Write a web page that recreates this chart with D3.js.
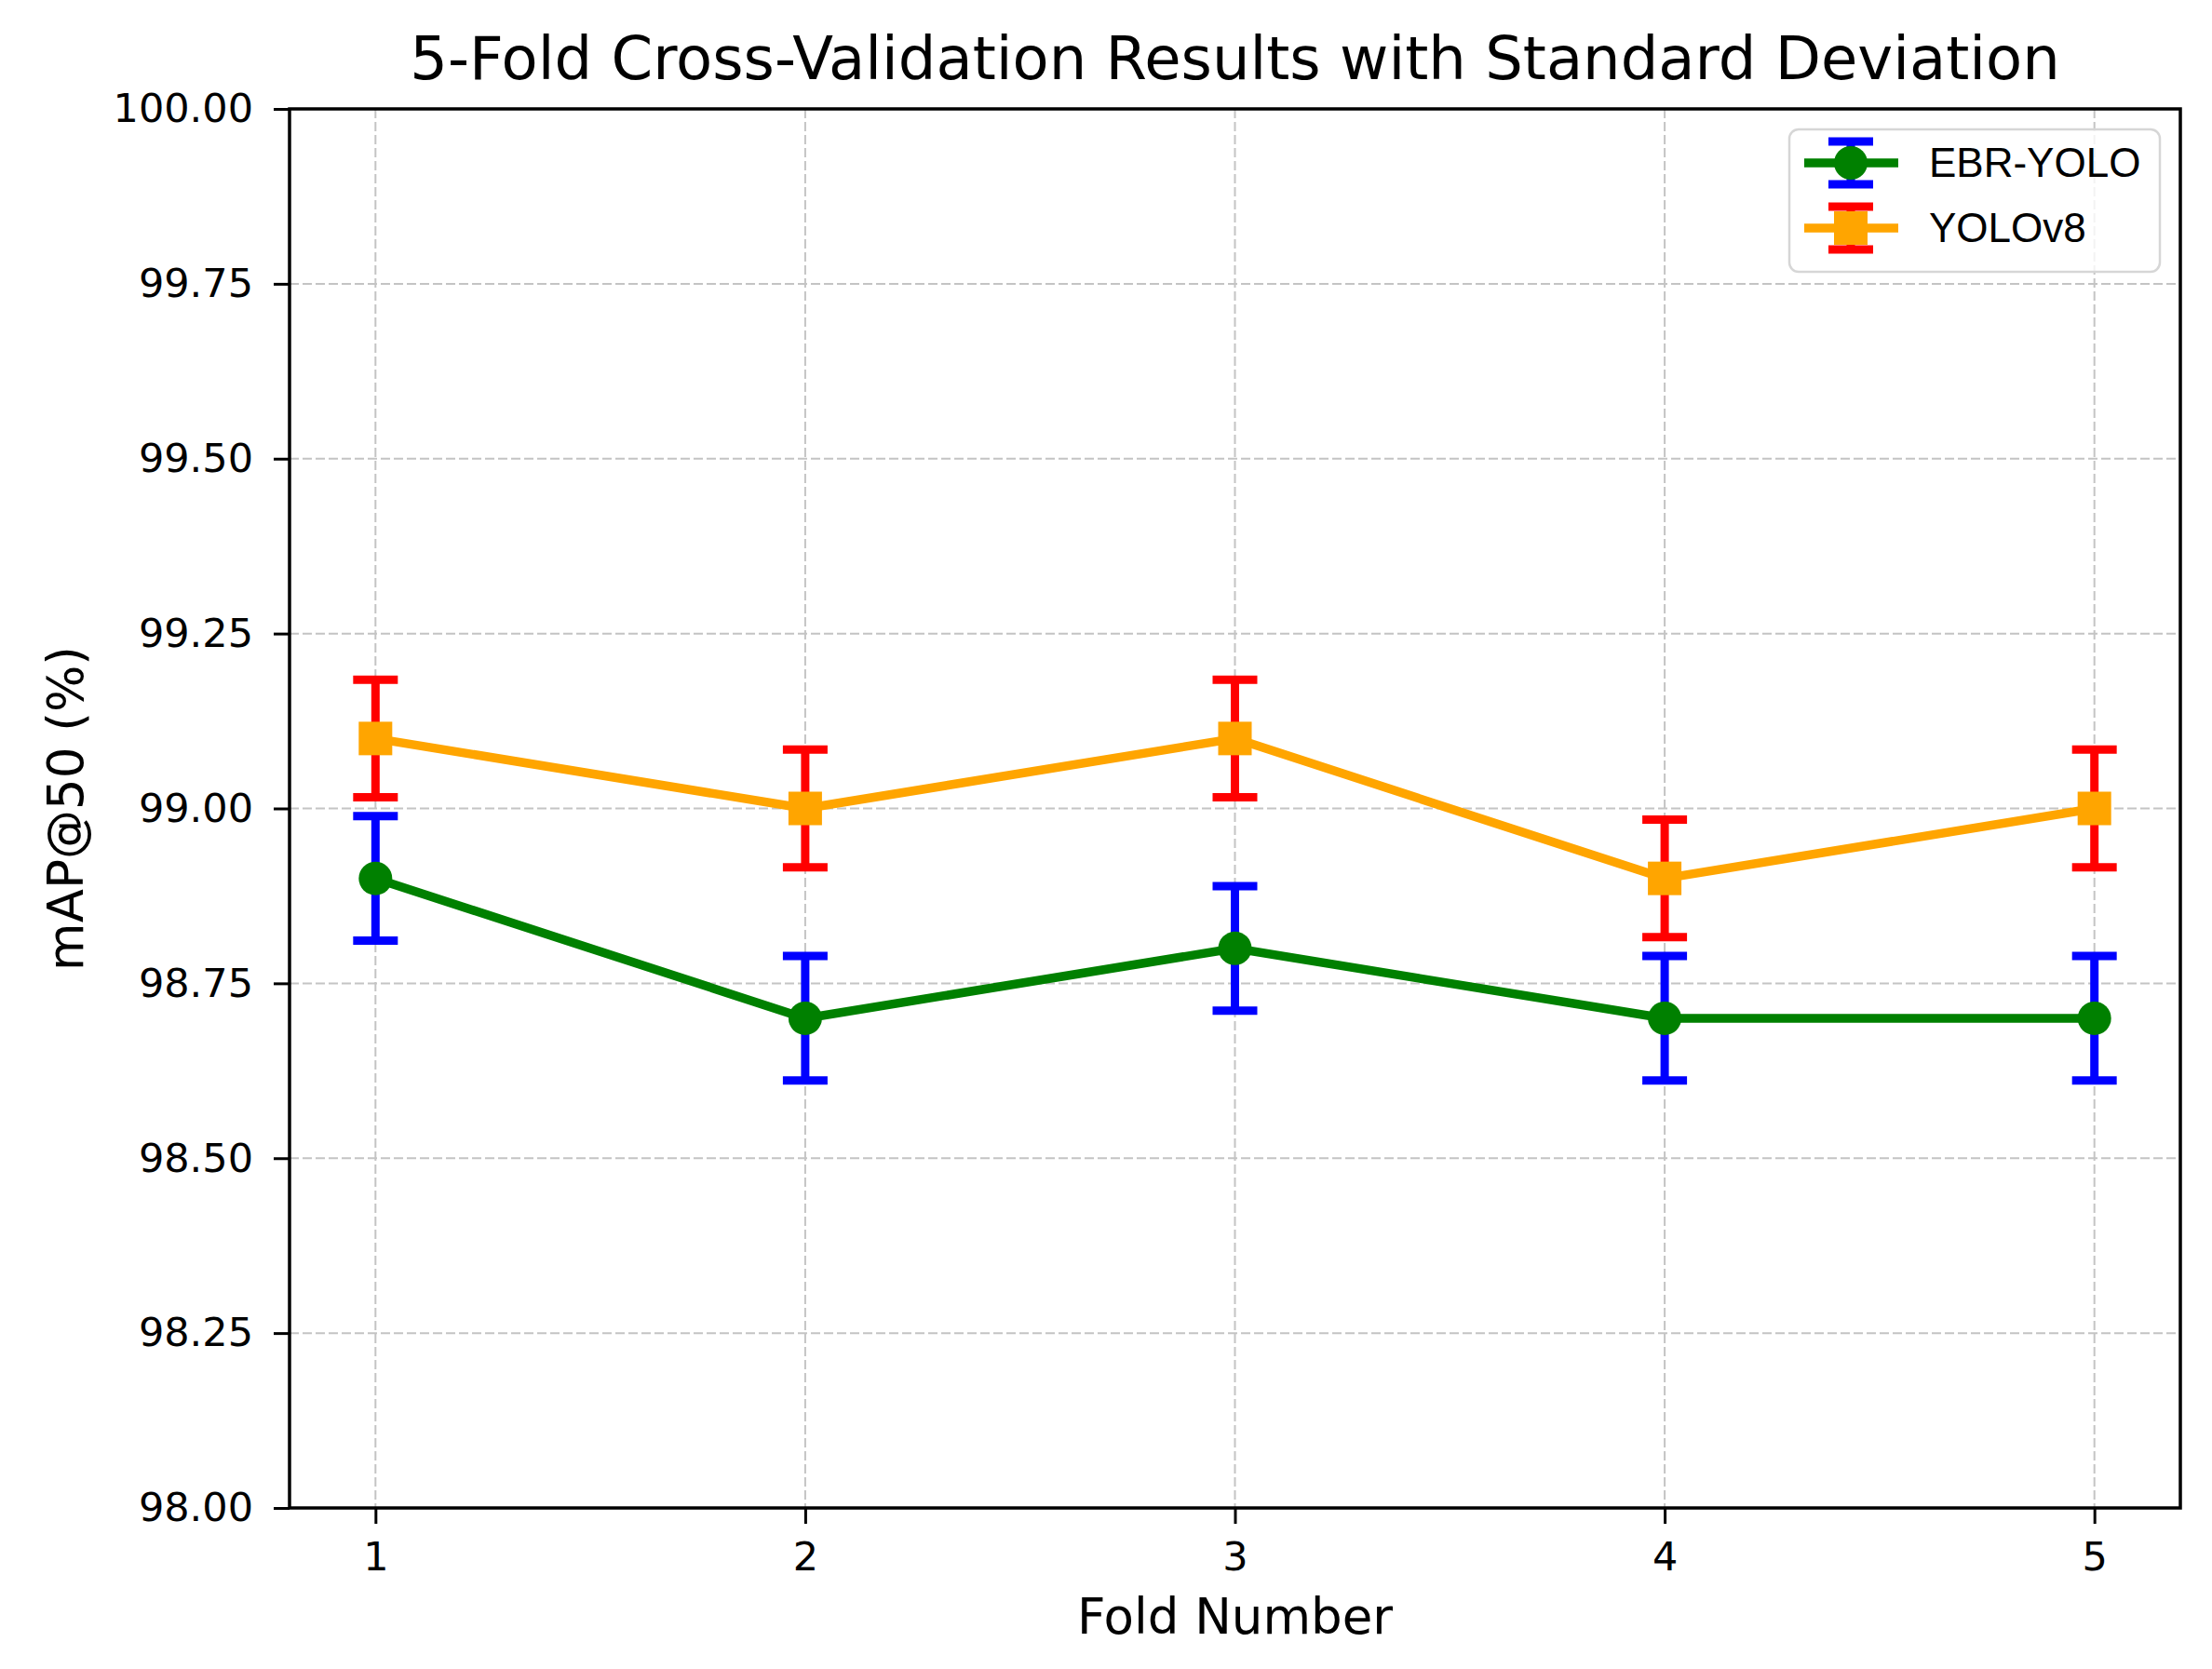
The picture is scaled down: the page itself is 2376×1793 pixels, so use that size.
<!DOCTYPE html>
<html lang="en">

<head>
    <meta charset="UTF-8">
    <title>5-Fold Cross-Validation Results</title>
    <style>
        body {
            margin: 0;
            background: #fff;
        }

        .grid line {
            stroke: #c4c4c4;
            stroke-width: 2px;
            stroke-dasharray: 10 4;
        }

        .axis path,
        .axis line {
            stroke: #000;
        }

        .axis text {
            font: 43px "DejaVu Sans", sans-serif;
            fill: #000;
        }
    </style>
</head>

<body>
    <svg id="chart" width="2376" height="1793"></svg>
    <script src="https://cdn.jsdelivr.net/npm/d3@7"></script>

    <script>
        // data
        const folds = [1, 2, 3, 4, 5];
        const ebrMean = [98.9, 98.7, 98.8, 98.7, 98.7];
        const ebrStd = [0.089, 0.089, 0.089, 0.089, 0.089];
        const yoloMean = [99.1, 99.0, 99.1, 98.9, 99.0];
        const yoloStd = [0.084, 0.084, 0.084, 0.084, 0.084];
        const yTicks = [98.00, 98.25, 98.50, 98.75, 99.00, 99.25, 99.50, 99.75, 100.00];

        const series = [
            { name: "EBR-YOLO", mean: ebrMean, std: ebrStd, color: "green", errColor: "blue", marker: "circle" },
            { name: "YOLOv8", mean: yoloMean, std: yoloStd, color: "orange", errColor: "red", marker: "square" }
        ];

        const margin = { top: 117, right: 34, bottom: 173, left: 311 },
            W = 2376, H = 1793,
            width = W - margin.left - margin.right,
            height = H - margin.top - margin.bottom;

        const svg = d3.select("#chart");
        svg.append("rect").attr("width", W).attr("height", H).attr("fill", "#fff");

        const g = svg.append("g")
            .attr("transform", "translate(" + margin.left + "," + margin.top + ")");

        const x = d3.scaleLinear().domain([0.8, 5.2]).range([0, width]);
        const y = d3.scaleLinear().domain([98, 100]).range([height, 0]);

        // grid
        g.append("g").attr("class", "grid")
            .selectAll("line.v").data(folds).enter().append("line")
            .attr("x1", d => x(d)).attr("x2", d => x(d))
            .attr("y1", 0).attr("y2", height);
        g.append("g").attr("class", "grid")
            .selectAll("line.h").data(yTicks).enter().append("line")
            .attr("x1", 0).attr("x2", width)
            .attr("y1", d => y(d)).attr("y2", d => y(d));

        // axes
        const xAxis = g.append("g").attr("class", "axis")
            .attr("transform", "translate(0," + height + ")")
            .call(d3.axisBottom(x).tickValues(folds).tickFormat(d3.format("d"))
                .tickSize(17).tickPadding(19).tickSizeOuter(0));
        const yAxis = g.append("g").attr("class", "axis")
            .call(d3.axisLeft(y).tickValues(yTicks).tickFormat(d3.format(".2f"))
                .tickSize(17).tickPadding(22).tickSizeOuter(0));
        [xAxis, yAxis].forEach(a => {
            a.select(".domain").remove();
            a.selectAll(".tick line").attr("stroke-width", 3);
        });

        // frame
        g.append("rect")
            .attr("width", width).attr("height", height)
            .attr("fill", "none").attr("stroke", "#000").attr("stroke-width", 3.5);

        const line = d3.line().x((d, i) => x(folds[i])).y(d => y(d));
        const capW = 48, markerR = 18;

        function drawMarker(sel, s, cx, cy) {
            if (s.marker === "circle") {
                sel.append("circle").attr("cx", cx).attr("cy", cy).attr("r", markerR).attr("fill", s.color);
            } else {
                sel.append("rect").attr("x", cx - markerR).attr("y", cy - markerR)
                    .attr("width", markerR * 2).attr("height", markerR * 2).attr("fill", s.color);
            }
        }

        series.forEach(s => {
            const sg = g.append("g");
            // error bars
            s.mean.forEach((m, i) => {
                const cx = x(folds[i]), lo = y(m - s.std[i]), hi = y(m + s.std[i]);
                sg.append("line").attr("x1", cx).attr("x2", cx).attr("y1", lo).attr("y2", hi)
                    .attr("stroke", s.errColor).attr("stroke-width", 9);
                [lo, hi].forEach(v => sg.append("line")
                    .attr("x1", cx - capW / 2).attr("x2", cx + capW / 2).attr("y1", v).attr("y2", v)
                    .attr("stroke", s.errColor).attr("stroke-width", 9));
            });
            sg.append("path").datum(s.mean).attr("d", line)
                .attr("fill", "none").attr("stroke", s.color).attr("stroke-width", 9.5)
                .attr("stroke-linejoin", "round");
            s.mean.forEach((m, i) => drawMarker(sg, s, x(folds[i]), y(m)));
        });

        // title and labels
        svg.append("text").attr("x", margin.left + width / 2).attr("y", 85)
            .attr("text-anchor", "middle")
            .style("font", '64px "DejaVu Sans", sans-serif')
            .text("5-Fold Cross-Validation Results with Standard Deviation");
        svg.append("text").attr("x", margin.left + width / 2).attr("y", 1755)
            .attr("text-anchor", "middle")
            .style("font", '53px "DejaVu Sans", sans-serif')
            .text("Fold Number");
        svg.append("text")
            .attr("transform", "translate(89," + (margin.top + height / 2) + ") rotate(-90)")
            .attr("text-anchor", "middle")
            .style("font", '53px "DejaVu Sans", sans-serif')
            .text("mAP@50 (%)");

        // legend
        const lg = svg.append("g").attr("transform", "translate(1922,139)");
        lg.append("rect").attr("width", 398).attr("height", 153).attr("rx", 10)
            .attr("fill", "#fff").attr("fill-opacity", 0.8)
            .attr("stroke", "#d6d6d6").attr("stroke-width", 2.5);
        series.forEach((s, i) => {
            const cy = 36 + i * 70, cx = 66;
            lg.append("line").attr("x1", 16).attr("x2", 117).attr("y1", cy).attr("y2", cy)
                .attr("stroke", s.color).attr("stroke-width", 9.5);
            lg.append("line").attr("x1", cx).attr("x2", cx).attr("y1", cy - 23).attr("y2", cy + 23)
                .attr("stroke", s.errColor).attr("stroke-width", 9);
            [cy - 23, cy + 23].forEach(v => lg.append("line")
                .attr("x1", cx - capW / 2).attr("x2", cx + capW / 2).attr("y1", v).attr("y2", v)
                .attr("stroke", s.errColor).attr("stroke-width", 9));
            drawMarker(lg, s, cx, cy);
            lg.append("text").attr("x", 150).attr("y", cy + 15)
                .style("font", '44px "Liberation Sans", Arial, sans-serif')
                .text(s.name);
        });
    </script>

</body>

</html>
